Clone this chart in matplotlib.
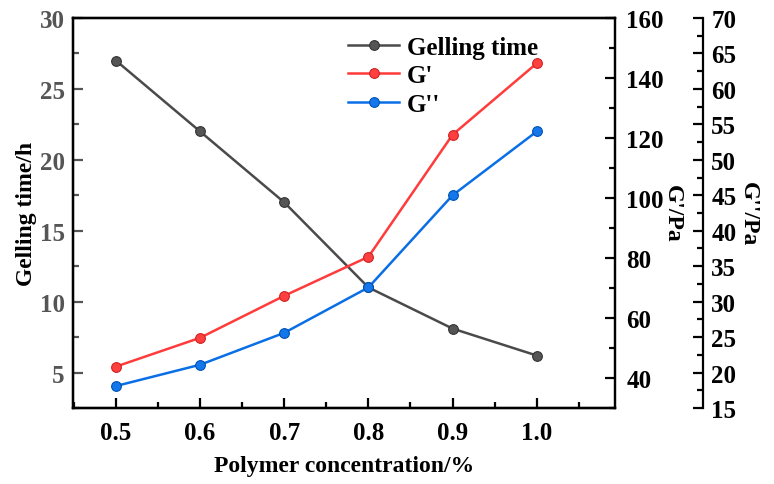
import numpy as np
import matplotlib.pyplot as plt
from matplotlib.ticker import MultipleLocator

plt.rcParams['font.family'] = ['Liberation Serif', 'DejaVu Serif']
plt.rcParams['font.weight'] = 'bold'

# data
conc = [0.5, 0.6, 0.7, 0.8, 0.9, 1.0]
gel_time = [27.0, 22.0, 17.0, 11.0, 8.1, 6.2]
g1 = [43.8, 53.4, 67.4, 80.4, 121.1, 144.9]
g2 = [18.1, 21.1, 25.6, 32.0, 45.0, 54.0]

c_gray = '#4a4a4a'
c_red = '#ff3b3b'
c_blue = '#0a6fe6'
fs_tick = 18
fs_lab = 17

fig = plt.figure(figsize=(7.74, 4.85), dpi=100)
ax = fig.add_axes([0.0943, 0.1567, 0.7003, 0.8041])
par1 = ax.twinx()
par2 = ax.twinx()
par2.spines['right'].set_position(('axes', 1.162))

l0, = ax.plot(conc, gel_time, '-o', color=c_gray, lw=1.8, ms=7,
              mfc='#555555', mec='#333333', mew=0.8, label='Gelling time')
l1, = par1.plot(conc, g1, '-o', color=c_red, lw=1.8, ms=7,
                mfc='#ff4040', mec='#d02020', mew=0.8, label="G'")
l2, = par2.plot(conc, g2, '-o', color=c_blue, lw=1.8, ms=7,
                mfc='#1478ec', mec='#0050b0', mew=0.8, label="G''")

ax.set_xlim(0.449, 1.093)
ax.set_ylim(2.5, 30)
par1.set_ylim(30, 160)
par2.set_ylim(15, 70)

ax.set_xticks([0.5, 0.6, 0.7, 0.8, 0.9, 1.0])
ax.set_xticklabels(['0.5', '0.6', '0.7', '0.8', '0.9', '1.0'])
ax.xaxis.set_minor_locator(MultipleLocator(0.05))
ax.set_yticks([5, 10, 15, 20, 25, 30])
ax.yaxis.set_minor_locator(MultipleLocator(2.5))
par1.set_yticks([40, 60, 80, 100, 120, 140, 160])
par1.yaxis.set_minor_locator(MultipleLocator(10))
par2.yaxis.set_major_locator(MultipleLocator(5))
par2.yaxis.set_minor_locator(MultipleLocator(2.5))

for a in (ax, par1, par2):
    for s in a.spines.values():
        s.set_linewidth(1.6)
    a.tick_params(which='major', direction='in', length=7, width=1.6,
                  labelsize=fs_tick, pad=6)
    a.tick_params(which='minor', direction='in', length=4, width=1.6)

ax.tick_params(axis='x', pad=9)
par1.tick_params(axis='y', pad=8)
ax.spines['left'].set_color('#555555')
ax.tick_params(axis='y', which='both', colors='#555555', labelcolor='#555555')

ax.set_xlabel('Polymer concentration/%', fontsize=fs_lab, fontweight='bold', labelpad=8)
ax.set_ylabel('Gelling time/h', fontsize=fs_lab, fontweight='bold', labelpad=2)
par1.set_ylabel("G'/Pa", fontsize=fs_lab, fontweight='bold', rotation=270, labelpad=14)
par2.set_ylabel("G''/Pa", fontsize=fs_lab, fontweight='bold', rotation=270, labelpad=16)

par2.legend(handles=[l0, l1, l2], loc='upper left', bbox_to_anchor=(0.475, 1.0),
            frameon=False, fontsize=18, handlelength=2.05, handletextpad=0.3,
            labelspacing=0.22, borderaxespad=0.3)

fig.savefig('out.png', dpi=100)
